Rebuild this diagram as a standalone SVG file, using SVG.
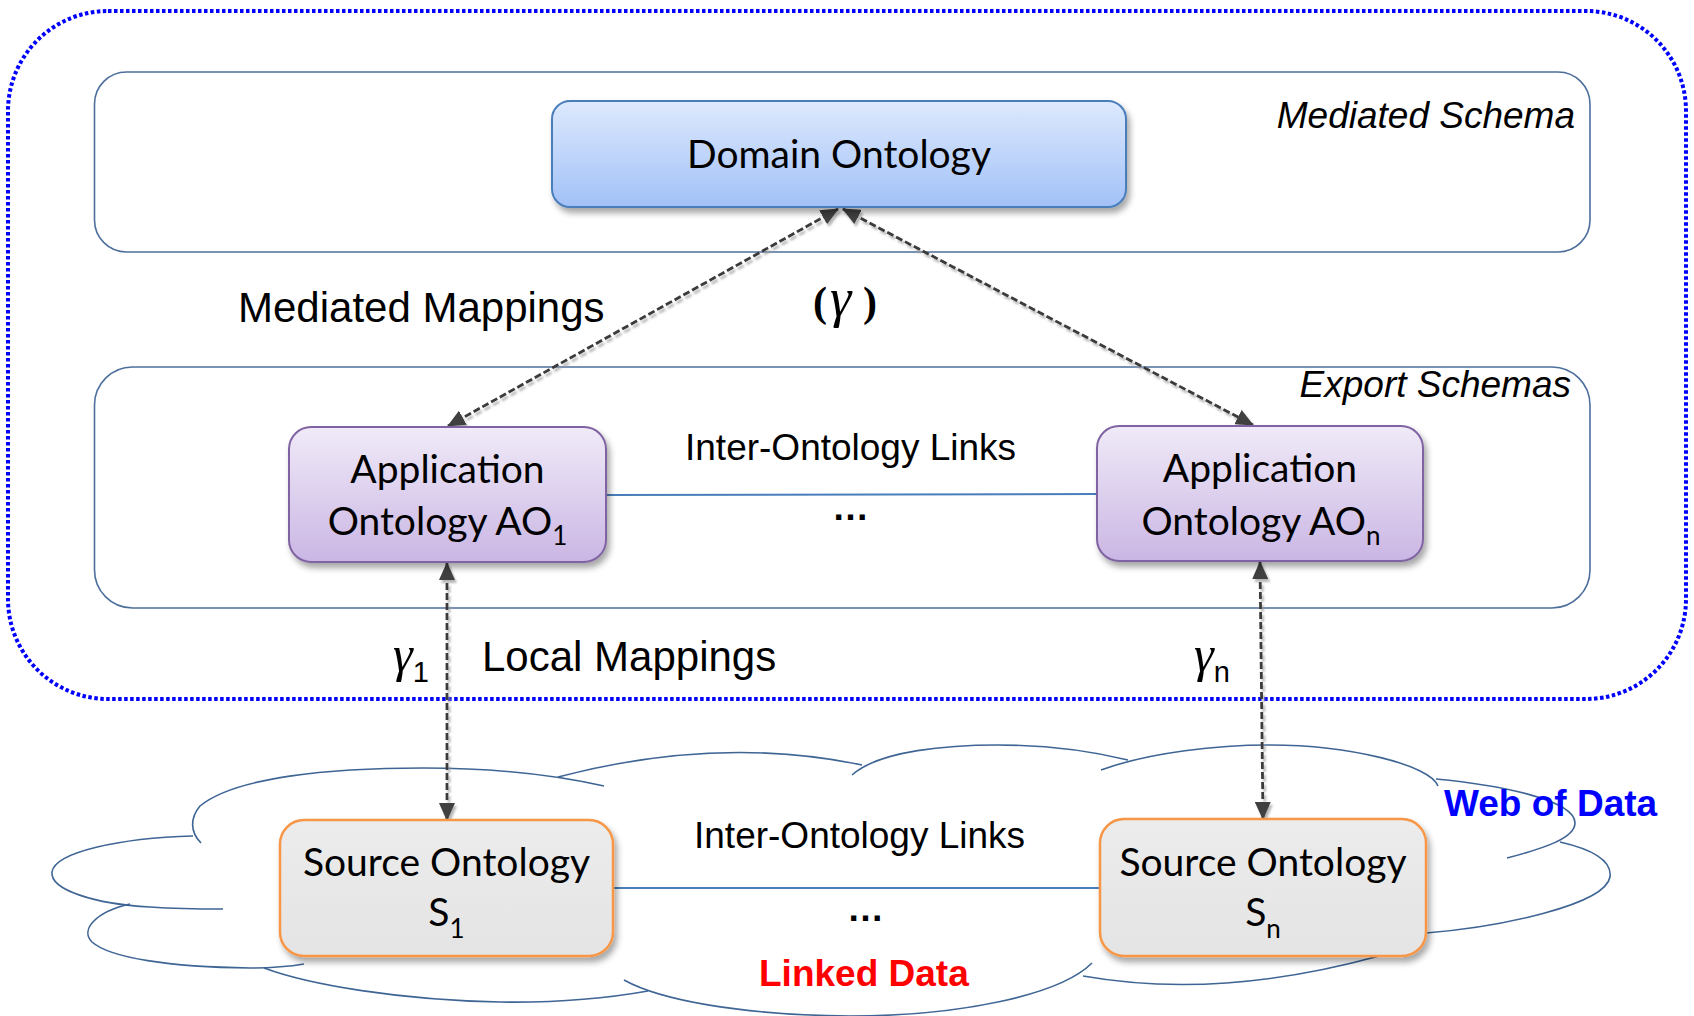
<svg xmlns="http://www.w3.org/2000/svg" width="1694" height="1016" viewBox="0 0 1694 1016">
<defs>
<linearGradient id="gBlue" x1="0" y1="0" x2="0" y2="1"><stop offset="0" stop-color="#dde9fd"/><stop offset="1" stop-color="#a2c1f7"/></linearGradient>
<linearGradient id="gPurple" x1="0" y1="0" x2="0" y2="1"><stop offset="0" stop-color="#f0eaf8"/><stop offset="1" stop-color="#cab6e4"/></linearGradient>
<linearGradient id="gGray" x1="0" y1="0" x2="0" y2="1"><stop offset="0" stop-color="#ececec"/><stop offset="1" stop-color="#e4e4e4"/></linearGradient>
<filter id="boxShadow" x="-10%" y="-10%" width="125%" height="135%"><feDropShadow dx="3" dy="5" stdDeviation="3" flood-color="#000" flood-opacity="0.35"/></filter>
<filter id="lineShadow" x="-10%" y="-10%" width="120%" height="120%"><feDropShadow dx="2" dy="3" stdDeviation="0.8" flood-color="#999" flood-opacity="0.7"/></filter>
<marker id="arr" markerUnits="userSpaceOnUse" markerWidth="18" markerHeight="16" refX="17" refY="8" orient="auto-start-reverse" viewBox="0 0 18 16"><path d="M0,0 L18,8 L0,16 z" fill="#404040"/></marker>
<style>
.frame{fill:none;stroke:#4d6f9c;stroke-width:1.6}
.cloud{fill:none;stroke:#3f6595;stroke-width:1.6}
.cal{font-family:Lato,"Open Sans","Liberation Sans",sans-serif;fill:#000}
.ar{font-family:"Liberation Sans",Arial,sans-serif;fill:#000}
.ser{font-family:"Liberation Serif","Times New Roman",serif;fill:#000}
.link{stroke:#4a7ebb;stroke-width:2;fill:none}
.dash{stroke:#3a3a3a;stroke-width:2.8;stroke-dasharray:7 3;fill:none;marker-start:url(#arr);marker-end:url(#arr)}
</style>
</defs>
<rect width="1694" height="1016" fill="#fff"/>

<g id="outer-boundary">
<rect x="8" y="11" width="1678" height="688" rx="100" ry="100" fill="none" stroke="#0000ff" stroke-width="4" stroke-dasharray="3.5 2.5"/>
</g>

<g id="mediated-schema">
<rect class="frame" x="94.5" y="72" width="1495.5" height="180" rx="32" ry="32"/>
<text class="ar" x="1575" y="128" font-size="37" font-style="italic" text-anchor="end">Mediated Schema</text>
</g>

<g id="export-schemas">
<rect class="frame" x="94.5" y="367" width="1495.5" height="241" rx="38" ry="38"/>
<text class="ar" x="1571" y="397" font-size="37" font-style="italic" text-anchor="end">Export Schemas</text>
</g>

<g id="web-of-data-cloud">
<path class="cloud" d="M201,843 C190,832 190,818 200,806 C235,777 330,768 423,768 C490,768 555,775 604,786"/>
<path class="cloud" d="M193,836 C120,838 55,852 52,872 C50,890 95,904 150,907 C180,909 205,909 223,909"/>
<path class="cloud" d="M130,904 C95,912 80,930 92,942 C110,958 170,967 250,968 C275,968 292,966 304,964"/>
<path class="cloud" d="M264,968 C310,985 400,1000 500,1002 C570,1003 620,996 648,991"/>
<path class="cloud" d="M624,980 C660,1000 740,1015 850,1016 C960,1016 1060,995 1092,963"/>
<path class="cloud" d="M1083,976 Q1219,1000 1379,956"/>
<path class="cloud" d="M1426,933 C1500,927 1605,905 1610,877 C1612,862 1595,850 1560,842"/>
<path class="cloud" d="M1507,858 C1545,848 1575,838 1575,823 C1575,800 1500,785 1436,779"/>
<path class="cloud" d="M1101,770 C1150,752 1220,745 1268,745 C1350,745 1430,765 1438,786"/>
<path class="cloud" d="M852,775 C880,750 950,745 998,745 C1050,745 1095,752 1128,760"/>
<path class="cloud" d="M558,777 Q718,735 862,765"/>
<text class="ar" x="1444" y="816" font-size="37" font-weight="bold" style="fill:#0000ff">Web of Data</text>
<text class="ar" x="759" y="986" font-size="37" font-weight="bold" style="fill:#ff0000">Linked Data</text>
</g>

<g id="connectors">
<line class="link" x1="606" y1="495" x2="1097" y2="494"/>
<line class="link" x1="613" y1="888" x2="1100" y2="888"/>
<g filter="url(#lineShadow)">
<line class="dash" x1="838" y1="209" x2="448" y2="426"/>
<line class="dash" x1="843" y1="209" x2="1253" y2="425"/>
<line class="dash" x1="447" y1="563" x2="447" y2="820"/>
<line class="dash" x1="1260" y1="562" x2="1263" y2="819"/>
</g>
</g>

<g id="domain-ontology">
<rect x="552" y="101" width="574" height="106" rx="18" ry="18" fill="url(#gBlue)" stroke="#4a7ebb" stroke-width="2" filter="url(#boxShadow)"/>
<text class="cal" x="839" y="168" font-size="39" text-anchor="middle">Domain Ontology</text>
</g>

<g id="application-ontology-1">
<rect x="289" y="427" width="317" height="135" rx="22" ry="22" fill="url(#gPurple)" stroke="#8064a2" stroke-width="2" filter="url(#boxShadow)"/>
<text class="cal" x="447.5" y="483" font-size="39" text-anchor="middle">Application</text>
<text class="cal" x="447.5" y="535" font-size="39" text-anchor="middle">Ontology AO<tspan font-size="26" dy="10">1</tspan></text>
</g>

<g id="application-ontology-n">
<rect x="1097" y="426" width="326" height="135" rx="22" ry="22" fill="url(#gPurple)" stroke="#8064a2" stroke-width="2" filter="url(#boxShadow)"/>
<text class="cal" x="1260" y="482" font-size="39" text-anchor="middle">Application</text>
<text class="cal" x="1261" y="535" font-size="39" text-anchor="middle">Ontology AO<tspan font-size="26" dy="10">n</tspan></text>
</g>

<g id="source-ontology-1">
<rect x="280" y="820" width="333" height="136" rx="24" ry="24" fill="url(#gGray)" stroke="#f79646" stroke-width="2.5" filter="url(#boxShadow)"/>
<text class="cal" x="446.5" y="876" font-size="39" text-anchor="middle">Source Ontology</text>
<text class="cal" x="446.5" y="926" font-size="39" text-anchor="middle">S<tspan font-size="26" dy="12">1</tspan></text>
</g>

<g id="source-ontology-n">
<rect x="1100" y="819" width="326" height="137" rx="24" ry="24" fill="url(#gGray)" stroke="#f79646" stroke-width="2.5" filter="url(#boxShadow)"/>
<text class="cal" x="1263" y="876" font-size="39" text-anchor="middle">Source Ontology</text>
<text class="cal" x="1263" y="926" font-size="39" text-anchor="middle">S<tspan font-size="26" dy="12">n</tspan></text>
</g>

<g id="labels">
<text class="ar" x="238" y="322" font-size="42">Mediated Mappings</text>
<text class="ser" y="316" font-size="42"><tspan x="813" font-weight="bold">(</tspan><tspan x="830" font-style="italic" font-size="54">γ</tspan><tspan x="863" font-weight="bold">)</tspan></text>
<text class="ar" x="685" y="460" font-size="37">Inter-Ontology Links</text>
<text class="ar" x="832" y="520" font-size="37" font-weight="bold">…</text>
<text class="ar" x="694" y="848" font-size="37">Inter-Ontology Links</text>
<text class="ar" x="847" y="921" font-size="37" font-weight="bold">…</text>
<text class="ar" x="482" y="671" font-size="42">Local Mappings</text>
<text x="393" y="671"><tspan class="ser" font-size="50" font-style="italic">γ</tspan><tspan class="ar" font-size="29" dy="11">1</tspan></text>
<text x="1194" y="671"><tspan class="ser" font-size="50" font-style="italic">γ</tspan><tspan class="ar" font-size="29" dy="11">n</tspan></text>
</g>
</svg>
